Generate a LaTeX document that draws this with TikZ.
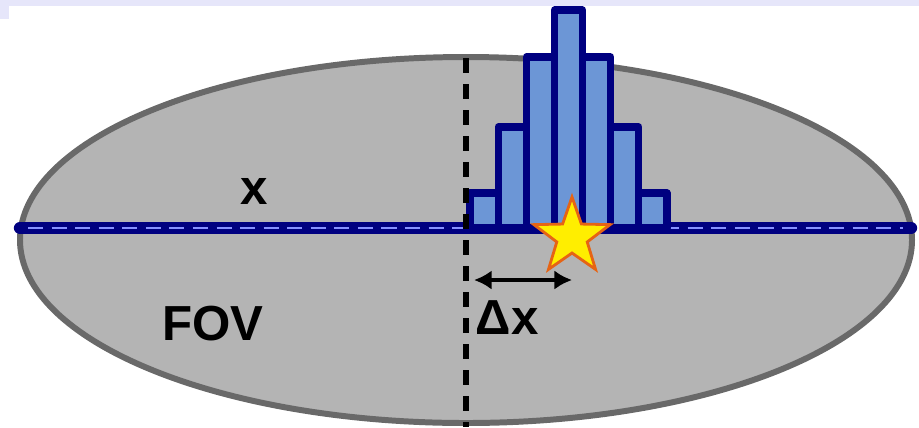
\documentclass[tikz,border=0pt]{standalone}
\usepackage{fontspec}
\setmainfont{Liberation Sans}
\usetikzlibrary{shapes.geometric,arrows.meta}
\definecolor{framelav}{RGB}{230,230,250}
\definecolor{fovgray}{RGB}{180,180,180}
\definecolor{rimgray}{RGB}{105,105,105}
\definecolor{navy}{RGB}{0,0,128}
\definecolor{dashblue}{RGB}{135,145,255}
\definecolor{barblue}{RGB}{108,150,214}
\definecolor{staryellow}{RGB}{255,238,0}
\definecolor{starrim}{RGB}{230,100,20}
\tikzset{
  fov/.style={draw=rimgray,line width=1.7pt,fill=fovgray},
  lineaxis/.style={draw=navy,line width=3.5pt,line cap=round},
  axisdash/.style={draw=dashblue,line width=0.8pt,dash pattern=on 4.3pt off 2.4pt},
  histbar/.style={draw=navy,line width=2pt,fill=barblue,line join=round},
  midline/.style={draw=black,line width=1.6pt,dash pattern=on 4.2pt off 3.2pt},
  source/.style={star,star points=5,star point ratio=2.5,minimum size=0.8cm,inner sep=0pt,
                 fill=staryellow,draw=starrim,line width=0.8pt},
  deltaarrow/.style={{Latex[length=5pt,width=5.5pt]}-{Latex[length=5pt,width=5.5pt]},line width=1.4pt},
  lbl/.style={font=\fontsize{14}{17}\selectfont\bfseries,inner sep=0pt},
}
\begin{document}
\begin{tikzpicture}[x=0.01cm,y=-0.01cm]
  \useasboundingbox (0,0) rectangle (919,427);
  % slide frame corner
  \fill[framelav] (0,0) rectangle (919,6);
  \fill[framelav] (0,0) rectangle (9,19);

  \draw[fov] (466,240) ellipse [x radius=446, y radius=183];

  \coordinate (axL) at (20,228);
  \coordinate (axR) at (911,228);
  \draw[lineaxis] (axL) -- (axR);
  \draw[axisdash] ([xshift=0.08cm]axL) -- ([xshift=-0.08cm]axR);

  \foreach \h [count=\i from 0] in {35,101,171,218,171,101,35}
    \draw[histbar] ({470+28.14*\i},228) rectangle ++(28.14,-\h);

  \coordinate (ctop) at (466,58);
  \coordinate (cbot) at (466,427);
  \draw[midline] (ctop) -- (cbot);

  \node[source] (src) at (572,237) {};

  \coordinate (dxL) at (474,280);
  \draw[deltaarrow] (dxL) -- (src |- dxL);

  \node[lbl] (xlab) at (254,191) {x};
  \node[lbl] (fovlab) at (213,324) {FOV};
  \node[lbl] (dxlab) at (507,318) {Δx};
\end{tikzpicture}
\end{document}
